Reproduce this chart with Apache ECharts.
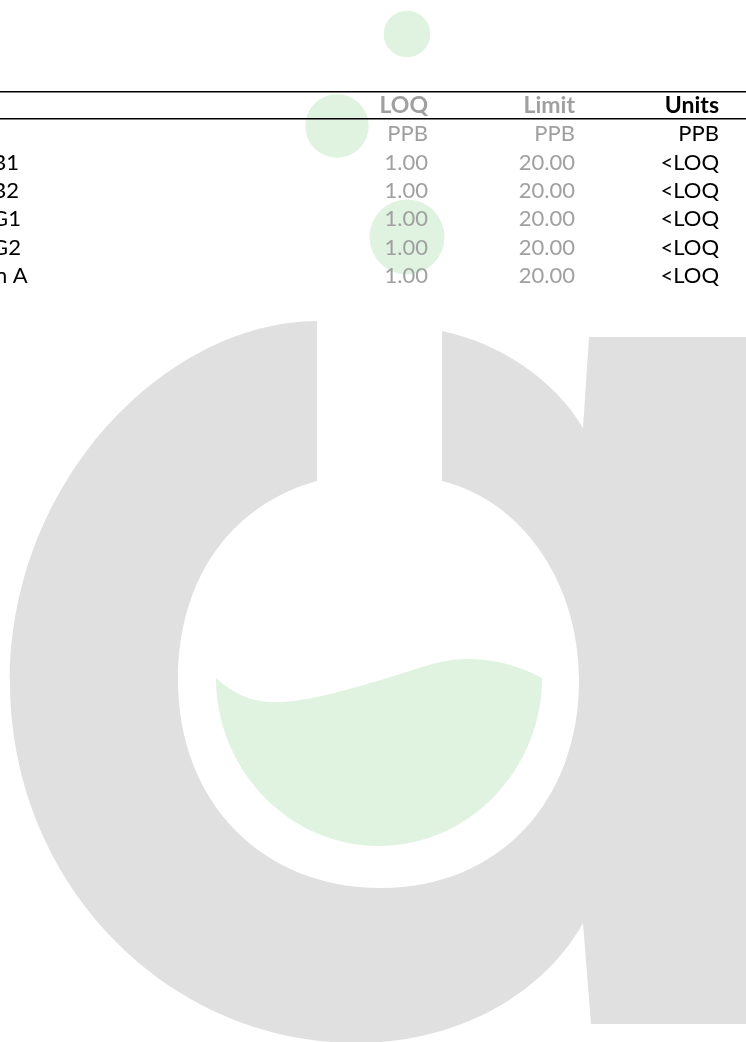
<!DOCTYPE html>
<html>
<head>
<meta charset="utf-8">
<title>Results table</title>
<script src="https://cdn.jsdelivr.net/npm/echarts@6.0.0/dist/echarts.min.js"></script>
<style>
  html, body { margin: 0; padding: 0; background: #fff; }
  #main { width: 746px; height: 1042px; }
</style>
</head>
<body>
<div id="main"></div>
<script>
// table content
const headers = ['LOQ', 'Limit', 'Units'];
const unitRow = ['PPB', 'PPB', 'PPB'];
const analytes = ['Aflatoxin B1', 'Aflatoxin B2', 'Aflatoxin G1', 'Aflatoxin G2', 'Ochratoxin A'];
const loqValues = [1.00, 1.00, 1.00, 1.00, 1.00];
const limitValues = [20.00, 20.00, 20.00, 20.00, 20.00];
const results = ['<LOQ', '<LOQ', '<LOQ', '<LOQ', '<LOQ'];

// layout
const W = 746;
const rowTop = 106;
const rowStep = 28.35;
const colRight = [428, 575, 719];
const nameLeft = -100;
const grey = '#a0a0a0';
const font = 'Lato, "Noto Sans", sans-serif';
const fs = 22;
const fsHead = 23;

// watermark logo
const logoGrey = '#dfe0df';
const logoGreen = '#e0f2e0';
const bodyPath = 'M317 321 C165 322 10 482 10 682 C10 881 165 1043 357 1043 ' +
  'C450 1043 540 1000 583 923 L591 1024 L746 1024 L746 337 L589 337 L583 428 ' +
  'C555 380 500 343 442 331 L442 481 C520 500 579 580 579 680 ' +
  'C579 800 500 888 381 888 C260 888 178 800 178 680 C178 580 230 505 317 481 Z';
const liquidPath = 'M216 678 C240 700 262 703 281 702 C315 700 345 690 381 680 ' +
  'C415 670 440 659 466 659 C495 659 520 666 542 678 ' +
  'C542 769 470 846 379 846 C288 846 216 769 216 678 Z';
const bubbles = [[407, 34, 23.3], [337, 126, 31.7], [407, 237, 37.5]];

const chart = echarts.init(document.getElementById('main'));

function rowY(i) {
  return rowTop + i * rowStep;
}

function cell(text, x, y, color, bold, align) {
  return {
    type: 'text',
    x: x,
    y: y,
    z: 100,
    silent: true,
    style: {
      text: text,
      fill: color,
      font: (bold ? 'bold ' + fsHead : fs) + 'px ' + font,
      align: align || 'right',
      verticalAlign: 'middle'
    }
  };
}

const elements = [];
// rules
[91.7, 118.8].forEach(function (y) {
  elements.push({
    type: 'line', z: 100, silent: true,
    shape: { x1: 0, y1: y, x2: W, y2: y },
    style: { stroke: '#000', lineWidth: 1.6 }
  });
});
// header
headers.forEach(function (h, c) {
  elements.push(cell(h, colRight[c], rowY(0), c === 2 ? '#000' : grey, true));
});
unitRow.forEach(function (u, c) {
  elements.push(cell(u, colRight[c], rowY(1), c === 2 ? '#000' : grey, false));
});
analytes.forEach(function (name, i) {
  const y = rowY(i + 2);
  elements.push(cell(name, nameLeft, y, '#000', false, 'left'));
  elements.push(cell(loqValues[i].toFixed(2), colRight[0], y, grey, false));
  elements.push(cell(limitValues[i].toFixed(2), colRight[1], y, grey, false));
  elements.push(cell(results[i], colRight[2], y, '#000', false));
});

chart.setOption({
  animation: false,
  graphic: elements,
  series: [{
    type: 'custom',
    coordinateSystem: 'none',
    silent: true,
    data: [0],
    renderItem: function () {
      const children = [
        { type: 'path', shape: { pathData: bodyPath }, style: { fill: logoGrey } },
        { type: 'path', shape: { pathData: liquidPath }, style: { fill: logoGreen } }
      ];
      bubbles.forEach(function (b) {
        children.push({ type: 'circle', shape: { cx: b[0], cy: b[1], r: b[2] }, style: { fill: logoGreen } });
      });
      return { type: 'group', children: children };
    }
  }]
});
</script>
</body>
</html>
